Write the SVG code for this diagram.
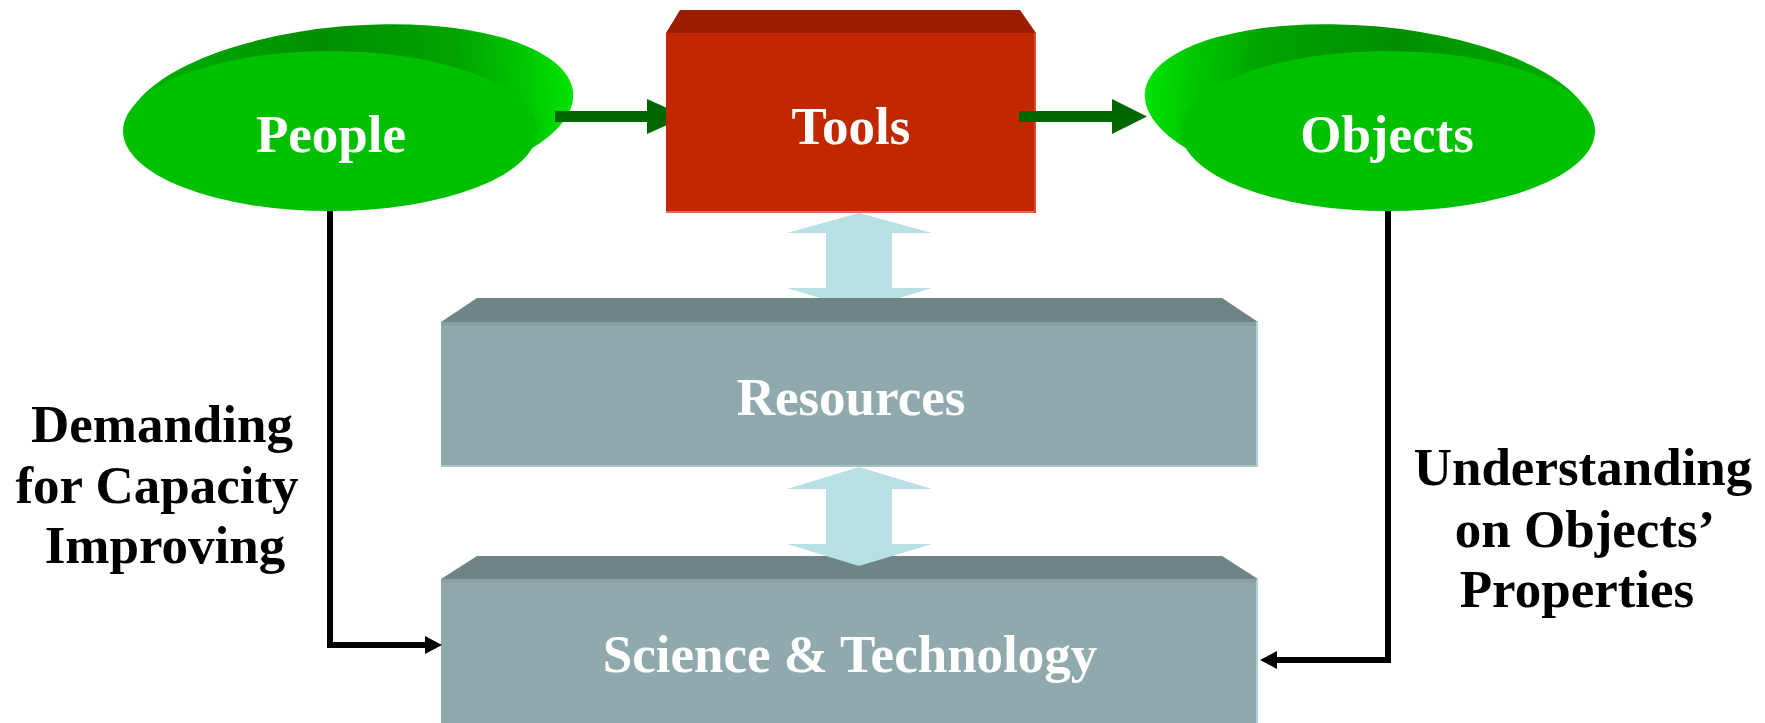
<svg xmlns="http://www.w3.org/2000/svg" width="1765" height="723" viewBox="0 0 1765 723">
  <defs>
    <style>
      .ntext { font-family: "Liberation Serif", "Times New Roman", serif; font-weight: bold; font-size: 53px; fill: #ffffff; text-anchor: middle; }
      .ltext { font-family: "Liberation Serif", "Times New Roman", serif; font-weight: bold; font-size: 53px; fill: #000000; text-anchor: middle; }
      .front-green { fill: #00c000; }
      .bevel-grey { fill: #6f8485; }
      .face-grey { fill: #8fa9ac; }
      .green-arrow { fill: #006600; }
      .blue-arrow { fill: #b8dfe3; }
      .black-line { fill: none; stroke: #000000; stroke-width: 6; }
    </style>
    <linearGradient id="gPeople" x1="0" y1="0" x2="1" y2="0">
      <stop offset="0" stop-color="#00b400"/>
      <stop offset="0.45" stop-color="#008e00"/>
      <stop offset="0.75" stop-color="#00a400"/>
      <stop offset="0.9" stop-color="#00c800"/>
      <stop offset="1" stop-color="#00e400"/>
    </linearGradient>
    <linearGradient id="gObjects" x1="1" y1="0" x2="0" y2="0">
      <stop offset="0" stop-color="#00b400"/>
      <stop offset="0.45" stop-color="#008e00"/>
      <stop offset="0.75" stop-color="#00a400"/>
      <stop offset="0.9" stop-color="#00c800"/>
      <stop offset="1" stop-color="#00e400"/>
    </linearGradient>
    <marker id="blackHead" markerUnits="userSpaceOnUse" markerWidth="18" markerHeight="18" refX="1" refY="9" orient="auto">
      <path d="M0,0 L17,9 L0,18 Z" fill="#000000"/>
    </marker>
  </defs>

  <rect x="0" y="0" width="1765" height="723" fill="#ffffff"/>

  <g id="node-people">
    <ellipse cx="350" cy="112" rx="224" ry="86" transform="rotate(-5 350 112)" fill="url(#gPeople)"/>
    <ellipse cx="330" cy="131" rx="207" ry="80" class="front-green"/>
    <text x="331" y="152" class="ntext">People</text>
  </g>

  <g id="node-objects">
    <ellipse cx="1368" cy="112" rx="224" ry="86" transform="rotate(5 1368 112)" fill="url(#gObjects)"/>
    <ellipse cx="1388" cy="131" rx="207" ry="80" class="front-green"/>
    <text x="1387" y="152" class="ntext">Objects</text>
  </g>

  <g id="node-tools">
    <polygon points="680,10 1020,10 1036,33 666,33" fill="#9b1e00"/>
    <rect x="666" y="33" width="370" height="180" fill="#c22800"/>
    <rect x="666" y="211" width="370" height="2" fill="#d87060"/>
    <rect x="1034" y="33" width="2" height="180" fill="#e04a20"/>
    <text x="851" y="144" class="ntext">Tools</text>
  </g>

  <g id="node-resources">
    <polygon points="477,298 1222,298 1258,322 441,322" class="bevel-grey"/>
    <rect x="441" y="322" width="817" height="145" class="face-grey"/>
    <rect x="441" y="322" width="817" height="4" fill="#86a0a3"/>
    <rect x="441" y="465" width="817" height="2" fill="#a9bfc1"/>
    <rect x="1256" y="322" width="2" height="145" fill="#b0d0d4"/>
    <text x="851" y="415" class="ntext">Resources</text>
  </g>

  <g id="node-science">
    <polygon points="477,556 1222,556 1258,579 441,579" class="bevel-grey"/>
    <rect x="441" y="579" width="817" height="144" class="face-grey"/>
    <rect x="441" y="579" width="817" height="4" fill="#86a0a3"/>
    <rect x="1256" y="579" width="2" height="144" fill="#b0d0d4"/>
    <text x="850" y="672" class="ntext">Science &amp; Technology</text>
  </g>

  <g id="connectors">
    <!-- People -> Tools -->
    <rect x="555" y="111" width="92" height="11" class="green-arrow"/>
    <polygon points="647,99 666,107.5 666,125.5 647,134" class="green-arrow"/>
    <!-- Tools -> Objects -->
    <rect x="1019" y="111" width="93" height="11" class="green-arrow"/>
    <polygon points="1112,99 1147,116.5 1112,134" class="green-arrow"/>
    <!-- Tools <-> Resources -->
    <polygon points="859,213 932,233 892,233 892,288 932,288 899,298 820,298 787,288 826,288 826,233 787,233" class="blue-arrow"/>
    <!-- Resources <-> Science -->
    <polygon points="859,467 932,489 892,489 892,544 932,544 859,566 787,544 826,544 826,489 787,489" class="blue-arrow"/>
    <!-- People -> Science -->
    <path d="M330,211 V645 H426" class="black-line" marker-end="url(#blackHead)"/>
    <!-- Objects -> Science -->
    <path d="M1388,211 V660 H1276" class="black-line" marker-end="url(#blackHead)"/>
  </g>

  <g id="labels">
    <text x="162" y="442" class="ltext">Demanding</text>
    <text x="157" y="503" class="ltext">for Capacity</text>
    <text x="165" y="563" class="ltext">Improving</text>
    <text x="1583" y="485" class="ltext">Understanding</text>
    <text x="1585" y="547" class="ltext">on Objects’</text>
    <text x="1577" y="607" class="ltext">Properties</text>
  </g>
</svg>
